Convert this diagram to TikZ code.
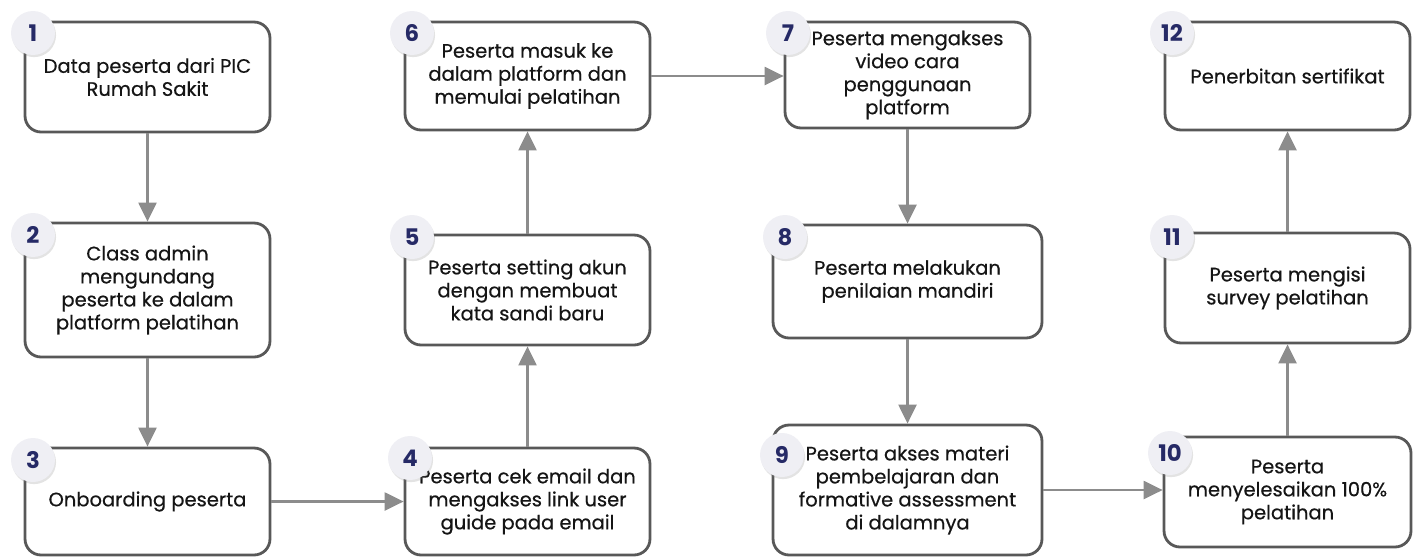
\documentclass[tikz,border=0pt]{standalone}
\usepackage{fontspec}
\setmainfont{Poppins}
\newfontfamily\isifont{Poppins}[FakeBold=0.45]
\usepackage{tikz}
\usetikzlibrary{arrows.meta,shadows}
\definecolor{garis}{HTML}{585858}
\definecolor{panah}{HTML}{8C8C8C}
\definecolor{nomor}{HTML}{262A66}
\definecolor{bulat}{HTML}{EFEFF4}
\definecolor{teks}{HTML}{151515}

\begin{document}
\begin{tikzpicture}[x=0.02cm,y=-0.02cm,
  kotak/.style={draw=garis,line width=1.6pt,rounded corners=0.32cm,fill=white,
    align=center,text=teks,font=\isifont\fontsize{11.1}{13.1}\selectfont,inner sep=2pt},
  nomorbulat/.style={circle,fill=bulat,minimum size=0.88cm,inner sep=0pt,text=nomor,
    font=\fontsize{13}{14}\selectfont\bfseries,
    drop shadow={opacity=0.22,shadow xshift=0.6pt,shadow yshift=-1.2pt}},
  alur/.style={draw=panah,line width=1.3pt,-{Triangle[length=0.38cm,width=0.36cm]}}]
\useasboundingbox (0,0) rectangle (1419,558);

\node[kotak,minimum width=4.9cm,minimum height=2.2cm] (k1) at (147.5,77) {Data peserta dari PIC\\Rumah Sakit};
\node[kotak,minimum width=4.9cm,minimum height=2.68cm] (k2) at (147.5,290) {Class admin\\mengundang\\peserta ke dalam\\platform pelatihan};
\node[kotak,minimum width=4.9cm,minimum height=2.14cm] (k3) at (147.5,501.5) {Onboarding peserta};
\node[kotak,minimum width=4.9cm,minimum height=2.14cm] (k4) at (527.5,501.5) {Peserta cek email dan\\mengakses link user\\guide pada email};
\node[kotak,minimum width=4.9cm,minimum height=2.2cm] (k5) at (527.5,290) {Peserta setting akun\\dengan membuat\\kata sandi baru};
\node[kotak,minimum width=4.9cm,minimum height=2.16cm] (k6) at (527.5,76) {Peserta masuk ke\\dalam platform dan\\memulai pelatihan};
\node[kotak,minimum width=4.9cm,minimum height=2.12cm] (k7) at (907.5,75) {Peserta mengakses\\video cara\\penggunaan\\platform};
\node[kotak,minimum width=5.38cm,minimum height=2.26cm] (k8) at (907.5,281.5) {Peserta melakukan\\penilaian mandiri};
\node[kotak,minimum width=5.38cm,minimum height=2.6cm] (k9) at (907.5,490) {Peserta akses materi\\pembelajaran dan\\formative assessment\\di dalamnya};
\node[kotak,minimum width=4.94cm,minimum height=2.2cm] (k10) at (1287.5,492) {Peserta\\menyelesaikan 100\%\\pelatihan};
\node[kotak,minimum width=4.9cm,minimum height=2.2cm] (k11) at (1287.5,288) {Peserta mengisi\\survey pelatihan};
\node[kotak,minimum width=4.9cm,minimum height=2.16cm] (k12) at (1287.5,76) {Penerbitan sertifikat};

\draw[alur] (k1) -- (k2);
\draw[alur] (k2) -- (k3);
\draw[alur] (k3) -- (k4);
\draw[alur] (k4) -- (k5);
\draw[alur] (k5) -- (k6);
\draw[alur] (k6.east) -- (k6.east -| k7.west);
\draw[alur] (k7) -- (k8);
\draw[alur] (k8) -- (k9);
\draw[alur] (k9.east) -- (k9.east -| k10.west);
\draw[alur] (k10) -- (k11);
\draw[alur] (k11) -- (k12);

\node[nomorbulat] (n1) at (33,33) {1};
\node[nomorbulat] (n2) at (33,235) {2};
\node[nomorbulat] (n3) at (33,460) {3};
\node[nomorbulat] (n4) at (410,458) {4};
\node[nomorbulat] (n5) at (412,237) {5};
\node[nomorbulat] (n6) at (412,33) {6};
\node[nomorbulat] (n7) at (788,33) {7};
\node[nomorbulat] (n8) at (785,237) {8};
\node[nomorbulat] (n9) at (782,455) {9};
\node[nomorbulat] (n10) at (1170,453) {10};
\node[nomorbulat] (n11) at (1172,237) {11};
\node[nomorbulat] (n12) at (1172,33) {12};
\end{tikzpicture}
\end{document}
